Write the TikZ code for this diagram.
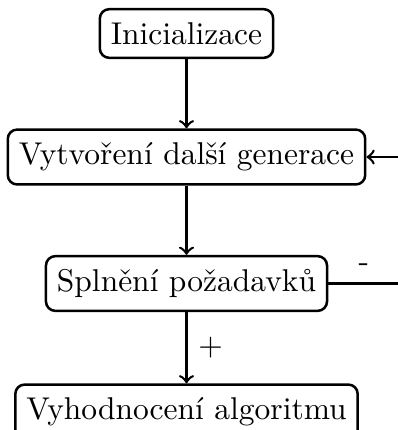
\documentclass[tikz,border=0pt]{standalone}
\usetikzlibrary{arrows}
\begin{document}
\begin{tikzpicture}[x=0.3175pt,y=-0.3175pt,
  box/.style={draw,thick,rounded corners=3pt,inner xsep=3.5pt,inner ysep=4.2pt},
  conn/.style={thick,->}]
\useasboundingbox (0,0) rectangle (398,430);
\node[box] (init) at (186.5,33.5) {Inicializace};
\node[box] (gen) at (186.5,157) {Vytvoření další generace};
\node[box] (req) at (186.5,283.5) {Splnění požadavků};
\node[box] (eval) at (186.5,412) {Vyhodnocení algoritmu};
\coordinate (c1) at (430,283.5);
\coordinate (c2) at (430,157);
\draw[conn] (init) -- (gen);
\draw[conn] (gen) -- (req);
\draw[conn] (req) -- node[right,pos=0.5] {+} (eval);
\draw[conn] (req.east) -- node[above,pos=0.35] {-} (c1) -- (c2) -- (gen.east);
\end{tikzpicture}
\end{document}
